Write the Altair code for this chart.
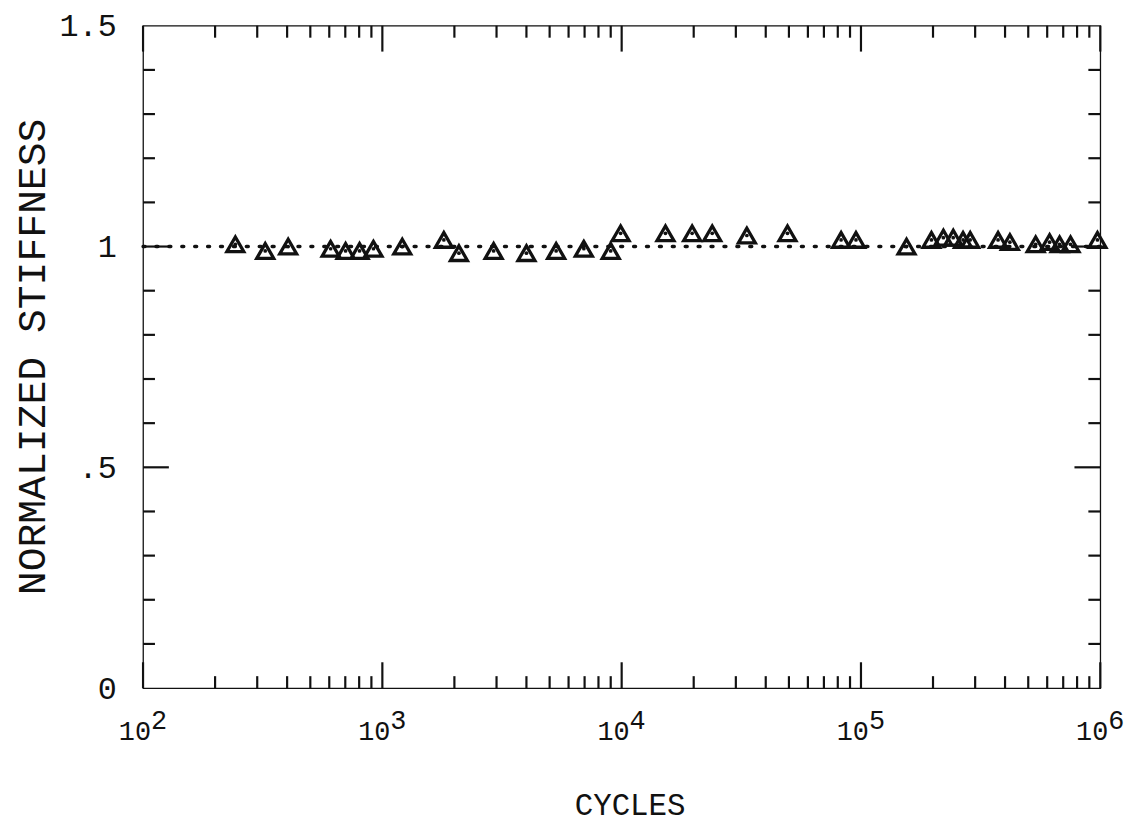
import altair as alt
import pandas as pd

# ---- data ----
cycles = [243, 324, 404, 608, 702, 803, 918, 1211, 1807, 2089, 2917,
          4000, 5323, 6950, 9000, 9900, 15240, 19700, 23900, 33360, 49300,
          82600, 95300, 155000, 197000, 221000, 243000, 267000, 286000,
          374000, 419000, 537000, 614000, 676000, 751000, 973000]
stiffness = [1.005, 0.99, 1.0, 0.995, 0.99, 0.99, 0.995, 1.0, 1.015, 0.985, 0.99,
             0.985, 0.99, 0.995, 0.99, 1.03, 1.03, 1.03, 1.03, 1.025, 1.03,
             1.015, 1.015, 1.0, 1.015, 1.02, 1.02, 1.015, 1.015,
             1.015, 1.01, 1.005, 1.01, 1.005, 1.005, 1.015]

decades = [100, 1000, 10000, 100000, 1000000]
exponents = ["2", "3", "4", "5", "6"]
minor_mult = [2, 3, 4, 5, 6, 7, 8, 9]
y_minor = [0.1, 0.2, 0.3, 0.4, 0.6, 0.7, 0.8, 0.9, 1.1, 1.2, 1.3, 1.4]
y_major = [0.5, 1.0]

FONT = "Liberation Mono"
INK = "#111111"

df = pd.DataFrame({"cycles": cycles, "stiffness": stiffness})
x_minor = [m * d for d in decades[:-1] for m in minor_mult]
df_xminor = pd.DataFrame({"v": x_minor})
df_xmajor = pd.DataFrame({"v": decades})
df_ymin = pd.DataFrame({"v": y_minor})
df_ymaj = pd.DataFrame({"v": y_major})
df_lab = pd.DataFrame({"v": decades, "e": exponents})

xscale = alt.Scale(type="log", domain=[100, 1000000], nice=False)
yscale = alt.Scale(domain=[0, 1.5], nice=False, zero=False)

xenc = alt.X("cycles:Q", scale=xscale,
             axis=alt.Axis(labels=False, ticks=False, domain=False, grid=False,
                           title="CYCLES", titleFont=FONT, titleFontSize=31,
                           titleFontWeight="normal", titleColor=INK,
                           titleX=490, titleY=118, titleBaseline="middle"))
yenc = alt.Y("stiffness:Q", scale=yscale,
             axis=alt.Axis(values=[0, 0.5, 1, 1.5], ticks=False, domain=False, grid=False,
                           labelExpr="datum.value == 1.5 ? '1.5' : datum.value == 1 ? '1' : datum.value == 0.5 ? '.5' : '0'",
                           labelFont=FONT, labelFontSize=32, labelColor=INK, labelPadding=27,
                           labelFlush=False,
                           title="NORMALIZED STIFFNESS", titleFont=FONT, titleFontSize=40,
                           titleFontWeight="normal", titleColor=INK,
                           titleX=-111, titleY=333, titleBaseline="middle"))

pts = alt.Chart(df).mark_point(shape="triangle-up", filled=False, size=290,
                               strokeWidth=3.3, color=INK, opacity=1).encode(x=xenc, y=yenc)
dots = alt.Chart(df).mark_point(shape="circle", filled=True, size=14, color=INK,
                                opacity=1).encode(x=alt.X("cycles:Q", scale=xscale),
                                                  y=alt.Y("stiffness:Q", scale=yscale))

ref = alt.Chart(pd.DataFrame({"y": [1.0]})).mark_rule(
    strokeDash=[2, 11], strokeWidth=3.4, strokeCap="round", color=INK
).encode(y=alt.Y("y:Q", scale=yscale))

def vticks(data, yval, size, off):
    return alt.Chart(data).mark_tick(orient="vertical", size=size, thickness=2.2,
                                     color=INK, yOffset=off, opacity=1).encode(
        x=alt.X("v:Q", scale=xscale), y=alt.datum(yval, scale=yscale))

def hticks(data, xval, size, off):
    return alt.Chart(data).mark_tick(orient="horizontal", size=size, thickness=2.2,
                                     color=INK, xOffset=off, opacity=1).encode(
        y=alt.Y("v:Q", scale=yscale), x=alt.datum(xval, scale=xscale))

ticks = [
    vticks(df_xminor, 0, 12, -6), vticks(df_xmajor, 0, 26, -13),
    vticks(df_xminor, 1.5, 12, 6), vticks(df_xmajor, 1.5, 26, 13),
    hticks(df_ymin, 100, 12, 6), hticks(df_ymaj, 100, 26, 13),
    hticks(df_ymin, 1000000, 12, -6), hticks(df_ymaj, 1000000, 26, -13),
]

lab10 = alt.Chart(df_lab).mark_text(text="10", font=FONT, fontSize=27, color=INK,
                                    align="right", baseline="alphabetic", dx=8, dy=52).encode(
    x=alt.X("v:Q", scale=xscale), y=alt.datum(0, scale=yscale))
labexp = alt.Chart(df_lab).mark_text(font=FONT, fontSize=27, color=INK,
                                     align="left", baseline="alphabetic", dx=8, dy=41).encode(
    x=alt.X("v:Q", scale=xscale), y=alt.datum(0, scale=yscale), text="e:N")

chart = alt.layer(pts, dots, ref, *ticks, lab10, labexp).properties(
    width=964, height=667,
    autosize=alt.AutoSizeParams(type="none"),
    padding={"left": 136, "top": 15, "right": 40, "bottom": 137},
    background="white",
).configure_view(stroke=INK, strokeWidth=1.3)

chart.save("out.html", embed_options={"renderer": "svg", "actions": False})
